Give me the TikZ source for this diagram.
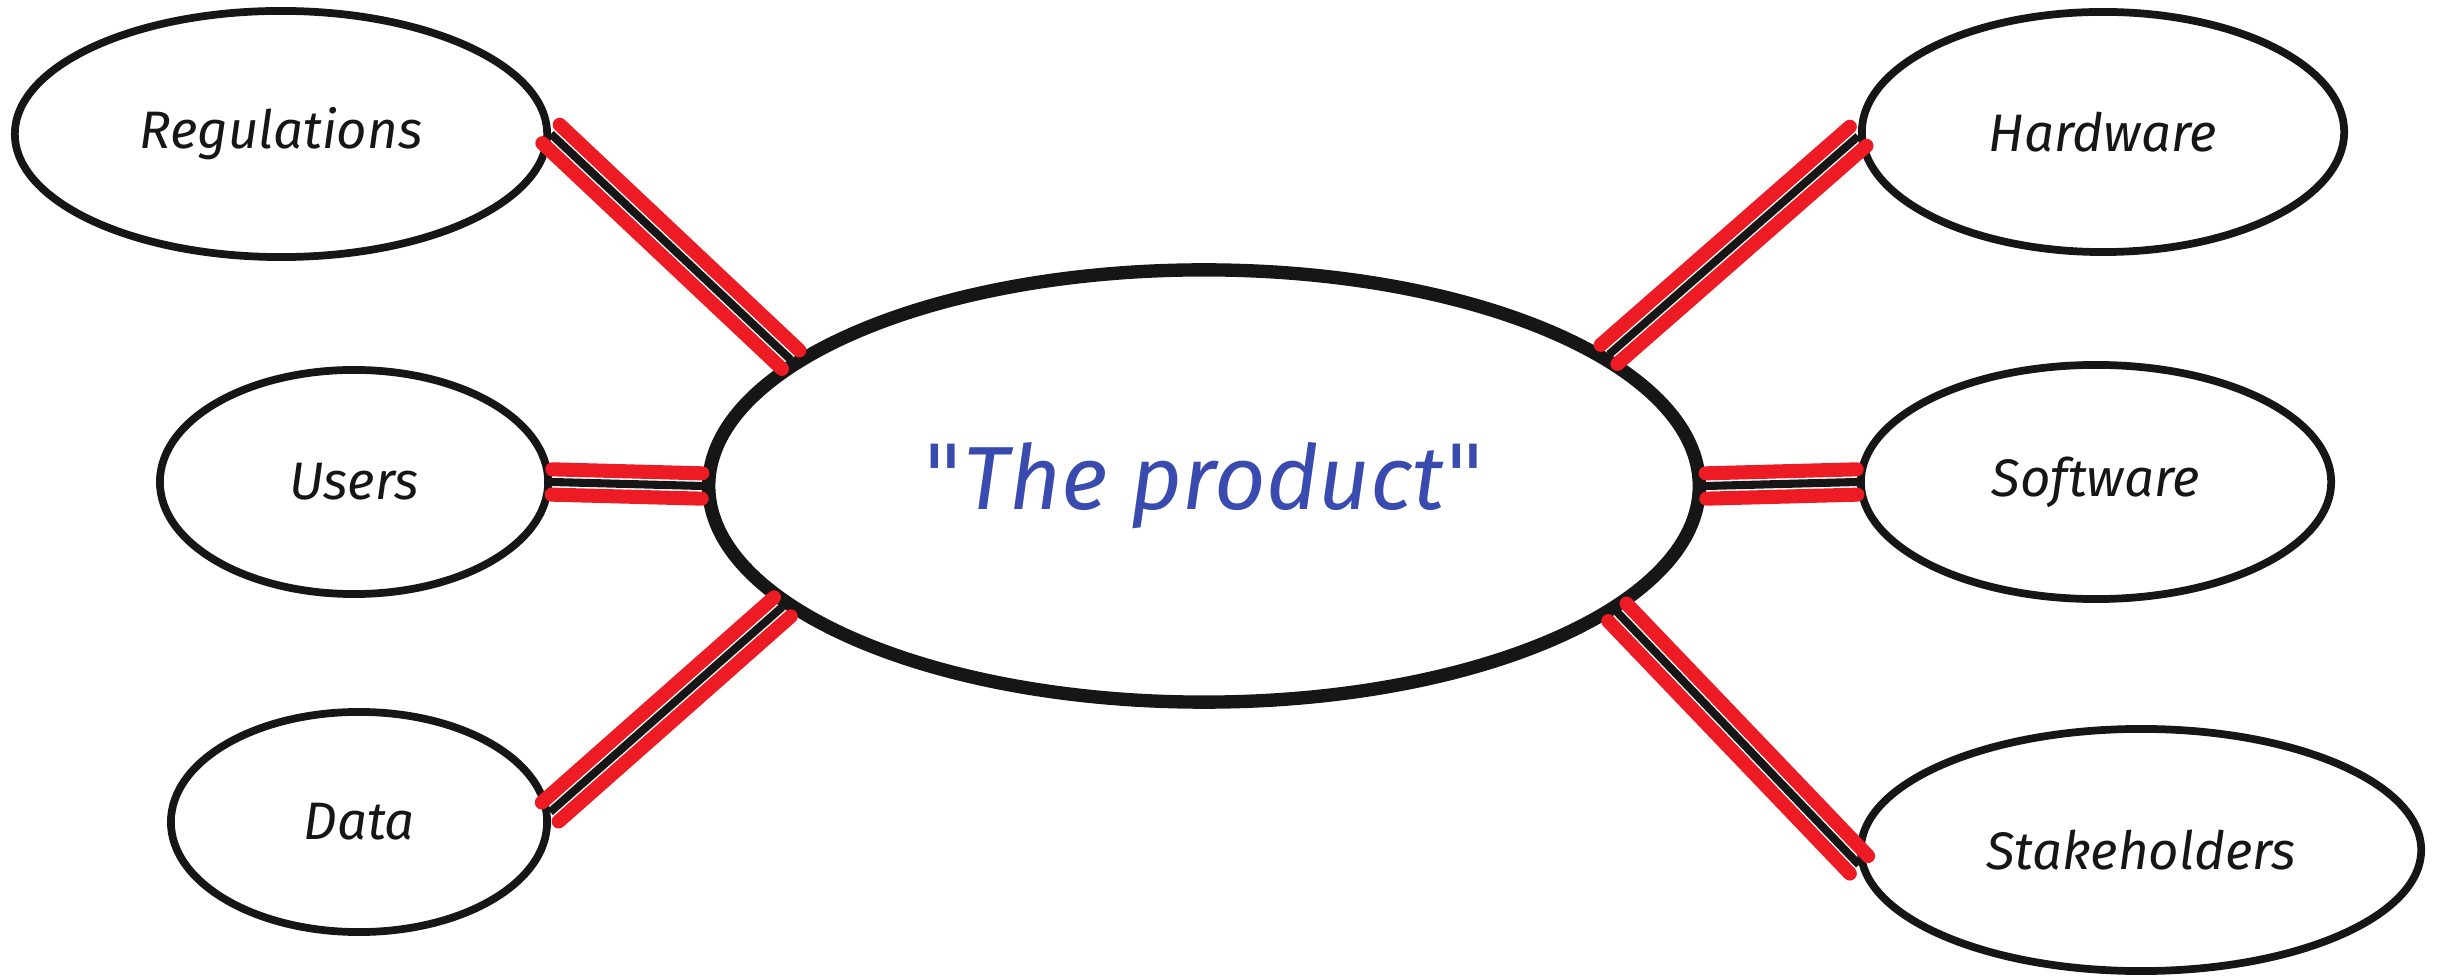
\documentclass[tikz,border=0pt]{standalone}
\usepackage{fontspec}
\defaultfontfeatures{}
\setmainfont{Fira Sans}
\newfontfamily\qfont{DejaVu Sans}
\usetikzlibrary{shapes.geometric,calc}
\definecolor{linkred}{RGB}{237,28,36}
\definecolor{prodblue}{RGB}{57,75,175}
\definecolor{inkblack}{RGB}{22,22,22}
\newcommand\linkpair[2]{%
  \draw[redline] ($(#1)!3.6pt!90:(#2)$) -- ($(#2)!3.6pt!-90:(#1)$);
  \draw[redline] ($(#1)!3.6pt!-90:(#2)$) -- ($(#2)!3.6pt!90:(#1)$);
  \draw[blackline] (#1) -- (#2);
}
\newcommand\straightq{{\qfont\itshape\symbol{34}}}
\begin{document}
\begin{tikzpicture}[x=0.01cm,y=-0.01cm,
  topic/.style={ellipse,draw=inkblack,line width=2.2pt,inner sep=0pt,
    font=\fontsize{15}{18}\selectfont\itshape,text=inkblack},
  core/.style={ellipse,draw=inkblack,line width=3.8pt,inner sep=0pt,
    font=\fontsize{25.5}{30}\selectfont\itshape,text=prodblue},
  redline/.style={draw=linkred,line width=4pt,line cap=round},
  blackline/.style={draw=inkblack,line width=2.3pt}]
\useasboundingbox (0,0) rectangle (2437,980);
\node[core,minimum width=9.9cm,minimum height=4.32cm] (ctr) at (1204,486) {\straightq The product\straightq};
\node[topic,minimum width=5.32cm,minimum height=2.46cm] (reg) at (281,134) {Regulations};
\node[topic,minimum width=3.88cm,minimum height=2.24cm] (usr) at (354,482) {Users};
\node[topic,minimum width=3.76cm,minimum height=2.2cm] (dat) at (359,822) {Data};
\node[topic,minimum width=4.82cm,minimum height=2.4cm] (hw) at (2103,132) {Hardware};
\node[topic,minimum width=4.7cm,minimum height=2.34cm] (sw) at (2096,482) {Software};
\node[topic,minimum width=5.6cm,minimum height=2.42cm] (stk) at (2141,850) {Stakeholders};
\linkpair{reg.east}{ctr.163.6}
\linkpair{usr.east}{ctr.west}
\linkpair{dat.3}{ctr.196}
\linkpair{ctr.18}{hw.181}
\linkpair{ctr.east}{sw.west}
\linkpair{ctr.-17.8}{stk.183}
\end{tikzpicture}
\end{document}
